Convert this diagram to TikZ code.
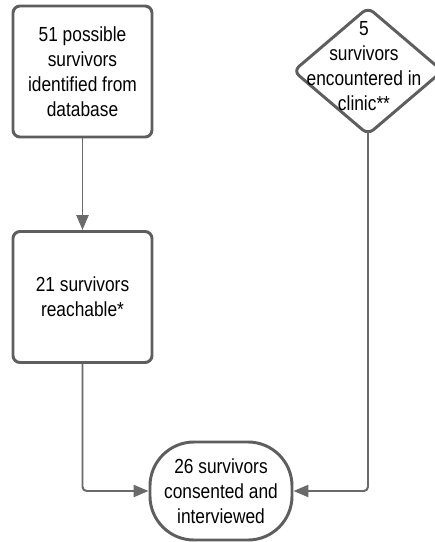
\documentclass[tikz,border=0pt]{standalone}
\usepackage{fontspec}
\setmainfont{Liberation Sans}[FakeStretch=0.85]
\usetikzlibrary{shapes.geometric,arrows.meta}
\definecolor{edgegray}{HTML}{5E5E5E}
\definecolor{linkgray}{HTML}{6A6A6A}

\tikzset{
  flowtext/.style={align=center,font=\fontsize{14.5}{17.7}\selectfont,text=black},
  box/.style={draw=edgegray,line width=2.1pt,rectangle,rounded corners=5pt,fill=white,
    minimum width=3.475cm,minimum height=3.275cm,inner sep=0pt},
  decide/.style={draw=edgegray,line width=2.1pt,diamond,rounded corners=5pt,fill=white,
    minimum width=3.75cm,minimum height=3.2cm,inner sep=0pt},
  term/.style={draw=edgegray,line width=2.1pt,rectangle,rounded corners=1.1cm,fill=white,
    minimum width=3.55cm,minimum height=2.45cm,inner sep=0pt},
  link/.style={draw=linkgray,line width=1.4pt,rounded corners=3pt,
    -{Triangle[length=10.5pt,width=8.5pt]}}
}

\begin{document}
\begin{tikzpicture}[x=0.025cm,y=-0.025cm]
  \useasboundingbox (0,0) rectangle (435,542);
  % sources
  \node[box,flowtext] (db) at (82.5,71.5) {51 possible\\survivors\\identified from\\database};
  \node[decide] (clinic) at (368,71) {};
  \node[flowtext] (cliniclbl) at (364,66) {5\\survivors\\encountered in\\clinic**};
  % middle step
  \node[box,flowtext] (reach) at (82.5,297) {21 survivors\\reachable*};
  % result
  \node[term,flowtext] (consent) at (221,491) {26 survivors\\consented and\\interviewed};
  \draw[link] (db) -- (reach);
  \draw[link] (reach) |- (consent);
  \draw[link,shorten <=-4pt] (clinic.south) |- (consent);
\end{tikzpicture}
\end{document}
